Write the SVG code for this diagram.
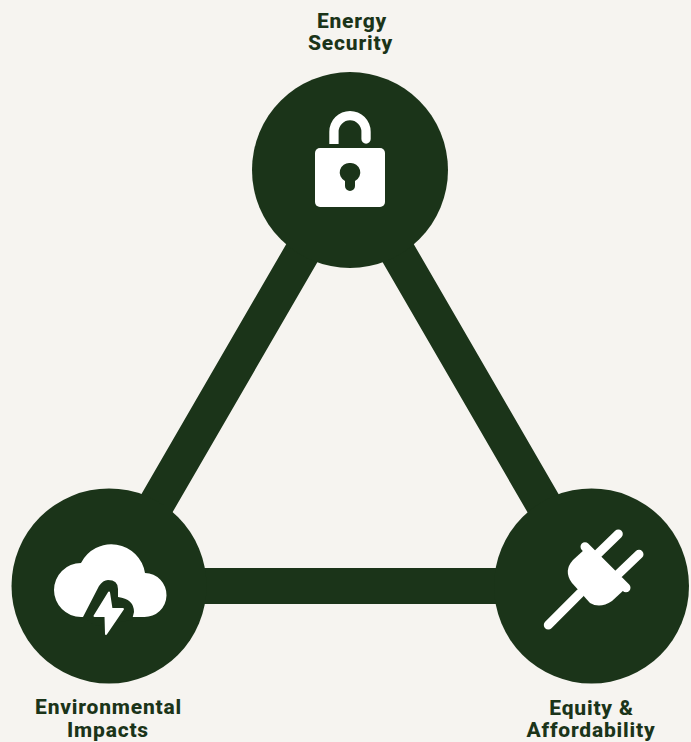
<svg xmlns="http://www.w3.org/2000/svg" width="691" height="742" viewBox="0 0 691 742">
<style>
.bg{fill:#f6f4f0}
.c{fill:#1b3419}
.w{fill:#fff}
.l{fill:none;stroke:#1b3419;stroke-width:36}
.t{font-family:"Roboto","Liberation Sans",sans-serif;font-weight:800;font-size:21px;fill:#1b3419;text-anchor:middle;letter-spacing:.8px}
.wl{fill:none;stroke:#fff;stroke-width:9;stroke-linecap:round}
</style>
<rect class="bg" width="691" height="742"/>
<g id="connectors">
<path class="l" d="M350 170L109 586H591Z"/>
</g>
<g id="energy-security">
<circle class="c" cx="350" cy="170" r="98"/>
<path class="w" d="M329.300 144V131.700A20.700 20.700 0 0 1 370.700 131.700V139A4.650 4.650 0 0 1 361.400 139V131.700A11.400 11.400 0 0 0 338.600 131.700V144Z"/>
<rect class="w" x="315" y="148" width="70" height="59" rx="5"/>
<path class="c" d="M350 163A9.500 9.500 0 0 1 355 181V186A5 5 0 0 1 345 186V181A9.500 9.500 0 0 1 350 163Z"/>
<text class="t" x="352" y="28">Energy</text>
<text class="t" x="350.500" y="49.500">Security</text>
</g>
<g id="environmental-impacts">
<circle class="c" cx="109" cy="586" r="97.500"/>
<path class="w" d="M81 617A27 27 0 0 1 81 563A34 34 0 0 1 145 573A22 22 0 0 1 144 617Z"/>
<path class="c" d="M83 617L99 586Q103 580 108 580Q118 580 118 589V597Q134 599 134 612L132 620L95 626Z"/>
<path class="w" stroke="#fff" stroke-width="2" stroke-linejoin="round" d="M109 592.500L94.500 616H105.500L106 634L123 609H111.500Z"/>
<text class="t" x="108.500" y="714">Environmental</text>
<text class="t" x="108" y="736.500">Impacts</text>
</g>
<g id="equity-affordability">
<circle class="c" cx="591.500" cy="586" r="97.500"/>
<path class="wl" d="M548.300 625L580 593.300M618.300 534L596.700 555M639 554.300L617.300 575M585 546.700L626 587.700"/>
<path class="w" d="M585 549L625 589L612 601Q600 609 590 603L572 583Q563 571 573 560Z"/>
<text class="t" x="591.500" y="715">Equity &amp;</text>
<text class="t" x="591" y="736.500">Affordability</text>
</g>
</svg>
